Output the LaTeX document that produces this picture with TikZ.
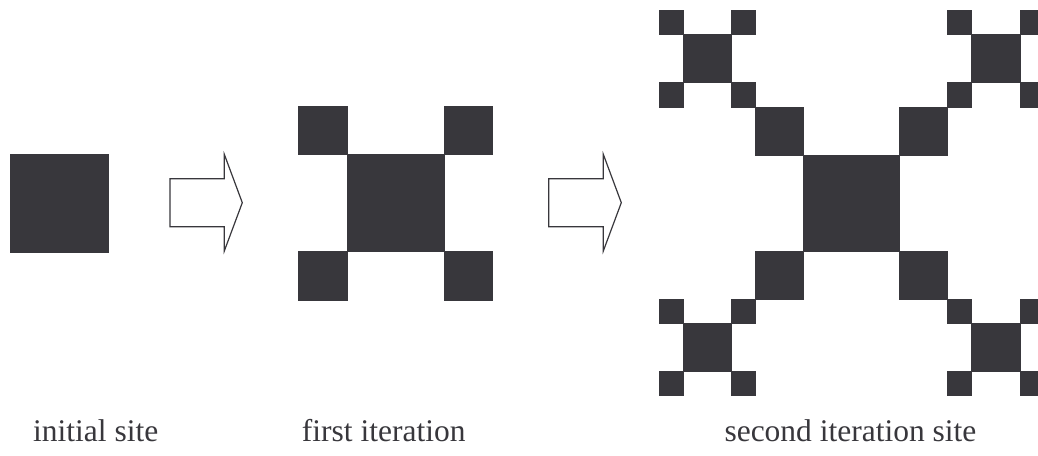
\documentclass[tikz,border=0pt]{standalone}
\usepackage{fontspec}
\setmainfont{Liberation Serif}
\definecolor{sq}{HTML}{38373C}
\begin{document}
\begin{tikzpicture}[x=1pt,y=1pt,
  sqr/.style={fill=sq, draw=sq, line width=0.3pt},
  arr/.style={draw=sq, line width=1.2pt, fill=white, line join=miter},
  lab/.style={font=\fontsize{31.5}{34}\selectfont, text=sq, anchor=base west, inner sep=0pt}]
\useasboundingbox (0,0) rectangle (1038,455);
\begin{scope}
\clip (0,0) rectangle (1038,455);
% initial site
\fill[sqr] (10,203) rectangle (108,301);
% arrows
\draw[arr] (170,276.3) -- (224.3,276.3) -- (224.3,300.7) -- (242.3,252.3) -- (224.3,204) -- (224.3,228.3) -- (170,228.3) -- cycle;
\draw[arr] (548.7,276.3) -- (603.3,276.3) -- (603.3,300.7) -- (621.3,252.3) -- (603.3,204) -- (603.3,228.3) -- (548.7,228.3) -- cycle;
% first iteration
\begin{scope}[shift={(395.2,252)}, x=24.25pt, y=24.25pt]
  \fill[sqr] (-2,-2) rectangle (2,2);
  \foreach \a/\b in {1/1,1/-1,-1/1,-1/-1}
    \fill[sqr] (2*\a,2*\b) rectangle (4*\a,4*\b);
\end{scope}
% second iteration
\begin{scope}[shift={(851.3,252.1)}, x=24.05pt, y=24.05pt]
  \fill[sqr] (-2,-2) rectangle (2,2);
  \foreach \a/\b in {1/1,1/-1,-1/1,-1/-1}{
    \fill[sqr] (2*\a,2*\b) rectangle (4*\a,4*\b);
    \fill[sqr] (4*\a,4*\b) rectangle (5*\a,5*\b);
    \fill[sqr] (5*\a,5*\b) rectangle (7*\a,7*\b);
    \fill[sqr] (7*\a,7*\b) rectangle (8*\a,8*\b);
    \fill[sqr] (7*\a,4*\b) rectangle (8*\a,5*\b);
    \fill[sqr] (4*\a,7*\b) rectangle (5*\a,8*\b);
  }
\end{scope}
\end{scope}
% labels
\node[lab] (l1) at (33,13.5) {initial site};
\node[lab] (l2) at (301.7,13.5) {first iteration};
\node[lab] (l3) at (724.3,13.5) {second iteration site};
\end{tikzpicture}
\end{document}
